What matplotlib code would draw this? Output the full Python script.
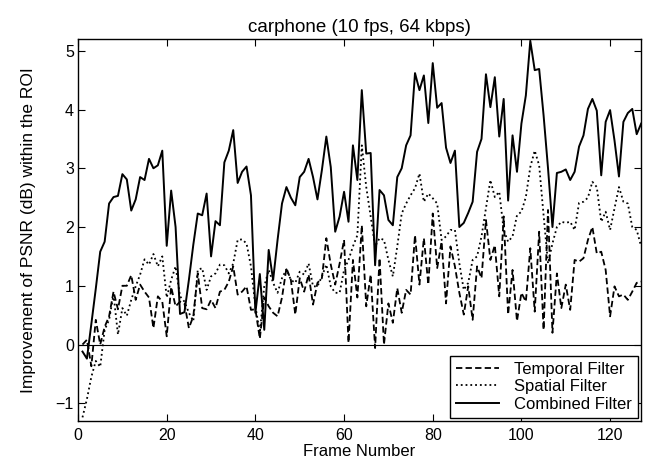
import numpy as np
import matplotlib
matplotlib.use('Agg')
import matplotlib.pyplot as plt

plt.rcParams['font.family'] = ['Liberation Sans', 'DejaVu Sans']

# frames 1..127
frames = np.arange(1, 128)

temporal = [0.0, 0.08, -0.37, 0.42, 0.0, 0.3, 0.48, 0.9, 0.6, 1.0,
            1.0, 1.18, 0.76, 1.02, 0.9, 0.8, 0.28, 0.82, 0.73, 0.14,
            0.98, 0.65, 0.73, 0.7, 0.28, 0.48, 1.21, 0.62, 0.6, 0.76,
            0.62, 0.9, 0.93, 1.07, 1.33, 0.85, 0.9, 0.99, 0.59, 0.6,
            0.1, 0.8, 0.65, 0.54, 0.48, 0.8, 1.3, 1.1, 0.51, 1.13,
            0.9, 1.19, 0.68, 1.05, 1.13, 1.81, 1.36, 1.02, 1.38, 1.78,
            0.03, 1.44, 0.8, 2.03, 0.65, 1.19, -0.06, 1.47, 0.0, 0.7,
            0.37, 0.96, 0.54, 0.93, 0.85, 1.86, 1.02, 1.81, 1.02, 2.23,
            1.3, 1.75, 0.7, 1.67, 1.33, 0.88, 0.51, 0.99, 0.42, 1.33,
            1.13, 2.12, 1.44, 1.69, 0.82, 2.18, 0.51, 1.27, 0.4, 0.88,
            0.73, 1.64, 0.56, 1.92, 0.25, 2.29, 0.2, 1.21, 0.62, 1.02,
            0.59, 1.44, 1.41, 1.47, 1.78, 2.0, 1.55, 1.58, 1.27, 0.48,
            0.99, 0.82, 0.85, 0.76, 0.9, 1.05, 1.07]

spatial = [-1.24, -0.93, -0.55, -0.28, -0.38, 0.25, 0.42, 0.85, 0.17, 0.62,
           0.49, 0.76, 0.99, 1.19, 1.45, 1.36, 1.54, 1.33, 1.5, 0.8,
           1.1, 1.33, 0.82, 0.73, 0.54, 0.4, 1.27, 1.3, 0.93, 1.16,
           1.21, 1.36, 1.35, 1.21, 1.38, 1.78, 1.79, 1.72, 1.33, 0.65,
           0.2, 0.99, 1.27, 1.05, 0.88, 1.13, 1.28, 1.1, 1.05, 1.24,
           1.19, 1.38, 0.99, 0.99, 1.16, 1.36, 0.99, 0.88, 0.88, 1.27,
           1.44, 1.67, 1.86, 3.39, 2.68, 2.18, 1.67, 1.81, 1.78, 1.44,
           1.16, 1.67, 2.23, 2.4, 2.54, 2.66, 2.91, 2.43, 2.57, 2.49,
           2.4, 1.78, 1.84, 1.95, 1.95, 1.38, 0.93, 1.05, 1.44, 1.5,
           1.84, 2.32, 2.8, 2.51, 2.6, 1.95, 1.75, 1.84, 2.2, 2.26,
           2.51, 3.02, 3.3, 3.05, 2.2, 1.38, 1.72, 2.0, 2.09, 2.07,
           2.09, 1.95, 2.41, 2.43, 2.5, 2.77, 2.68, 2.09, 2.26, 1.95,
           2.32, 2.68, 2.43, 2.4, 2.0, 1.95, 1.67]

combined = [-0.12, -0.24, 0.35, 0.95, 1.58, 1.75, 2.4, 2.51, 2.53, 2.9,
            2.81, 2.28, 2.47, 2.85, 2.8, 3.16, 3.0, 3.05, 3.3, 1.68,
            2.62, 2.0, 0.52, 0.55, 1.1, 1.7, 2.23, 2.2, 2.57, 1.5,
            2.1, 2.03, 3.1, 3.3, 3.65, 2.75, 2.94, 3.03, 2.54, 0.54,
            1.2, 0.25, 1.61, 1.1, 1.78, 2.4, 2.68, 2.5, 2.37, 2.85,
            2.94, 3.16, 2.85, 2.47, 2.97, 3.54, 3.02, 1.92, 2.18, 2.6,
            2.09, 3.39, 2.8, 4.33, 3.25, 3.26, 1.35, 2.63, 2.54, 2.12,
            2.03, 2.85, 3.0, 3.39, 3.56, 4.62, 4.33, 4.58, 3.77, 4.79,
            4.03, 4.11, 3.35, 3.09, 3.3, 2.0, 2.07, 2.24, 2.43, 3.28,
            3.5, 4.6, 4.04, 4.55, 3.54, 4.18, 2.45, 3.56, 2.94, 3.76,
            4.24, 5.17, 4.67, 4.69, 3.9, 3.0, 2.0, 2.92, 2.94, 2.98,
            2.8, 2.94, 3.37, 3.56, 4.01, 4.18, 3.98, 2.88, 3.79, 3.99,
            3.47, 2.86, 3.79, 3.94, 4.01, 3.58, 3.76]

labels = ['Temporal Filter', 'Spatial Filter', 'Combined Filter']

fig = plt.figure(figsize=(6.45, 4.59), dpi=100)
ax = fig.add_axes([0.121, 0.083, 0.873, 0.832])

ax.plot(frames, temporal, 'k--', lw=1.3, label=labels[0], dashes=(3.5, 1.8))
ax.plot(frames, spatial, 'k:', lw=1.3, label=labels[1])
ax.plot(frames, combined, 'k-', lw=1.4, label=labels[2])
ax.axhline(0, color='k', lw=0.8)

ax.set_xlim(0, 127)
ax.set_ylim(-1.3, 5.2)
ax.set_xticks(np.arange(0, 121, 20))
ax.set_yticks(np.arange(-1, 6, 1))
ax.tick_params(direction='in', top=True, right=True, length=5, labelsize=11.5)
ax.tick_params(axis='x', pad=5)
ax.tick_params(axis='y', pad=3)
for s in ax.spines.values():
    s.set_linewidth(1.0)

ax.set_title('carphone (10 fps, 64 kbps)', fontsize=13.5, pad=5)
ax.set_xlabel('Frame Number', fontsize=12, labelpad=1)
ax.set_ylabel('Improvement of PSNR (dB) within the ROI', fontsize=12.5,
              labelpad=14)

leg = ax.legend(loc='lower right', fontsize=12, fancybox=False, framealpha=1,
                edgecolor='k', borderaxespad=0.2, handlelength=2.6,
                handletextpad=0.9, borderpad=0.35, labelspacing=0.15)
leg.get_frame().set_linewidth(1.0)

fig.savefig('out.png', dpi=100)
